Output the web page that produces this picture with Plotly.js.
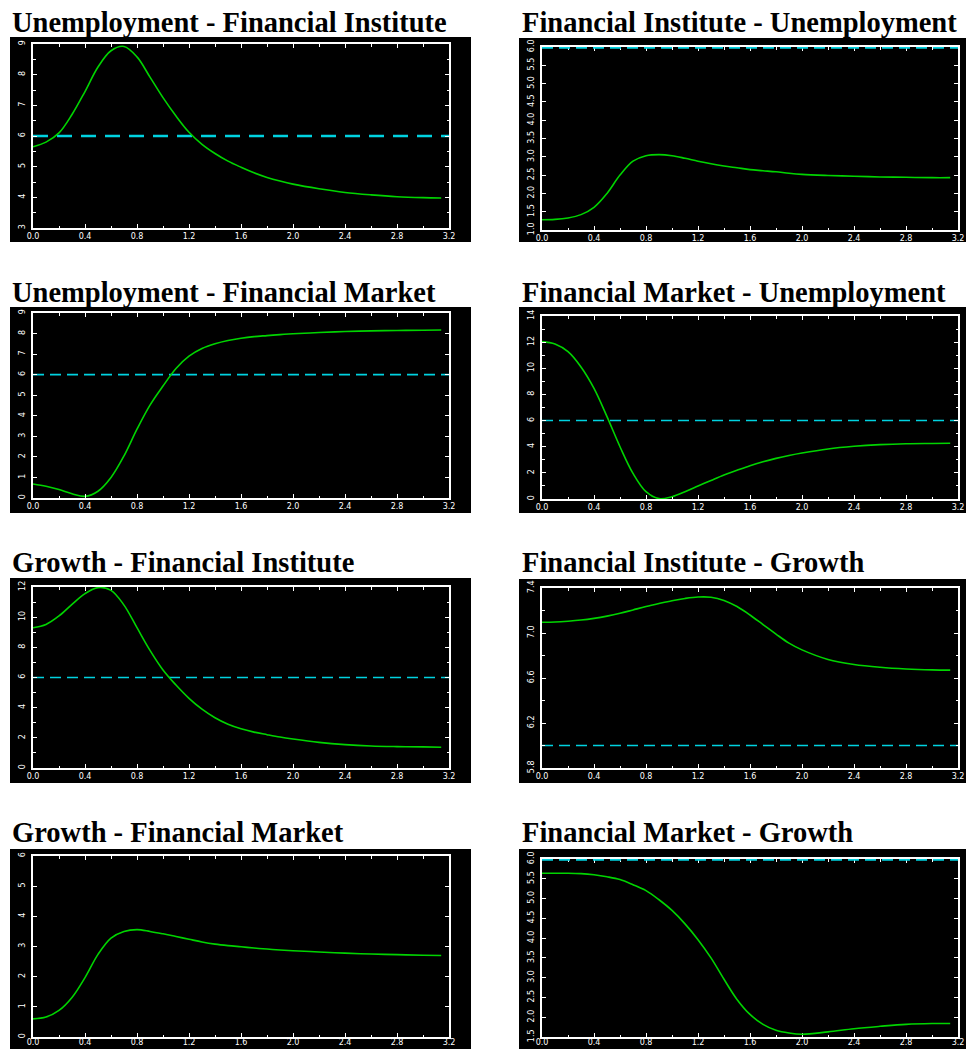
<!DOCTYPE html>
<html>
<head>
<meta charset="utf-8">
<script src="https://cdn.plot.ly/plotly-3.0.1.min.js"></script>
<style>
  html, body { margin: 0; padding: 0; background: #ffffff; }
  #chart { width: 968px; height: 1049px; }
</style>
</head>
<body>
<div id="chart"></div>
<script>
// Frequency grid (radians, 0 .. pi) shared by all eight response curves
const freq = [0, 0.1, 0.2, 0.3, 0.4, 0.5, 0.6, 0.7, 0.8, 0.9, 1.0, 1.1, 1.2, 1.3, 1.4,
              1.5, 1.6, 1.7, 1.8, 1.9, 2.0, 2.2, 2.4, 2.6, 2.8, 3.0, 3.14];

const unempFinInst = [5.65, 5.8, 6.1, 6.7, 7.45, 8.25, 8.78, 8.92, 8.58, 7.92, 7.25, 6.65, 6.12, 5.73, 5.43,
                      5.18, 4.98, 4.8, 4.65, 4.53, 4.43, 4.28, 4.16, 4.08, 4.02, 3.99, 3.98];
const finInstUnemp = [1.28, 1.29, 1.33, 1.42, 1.62, 2.0, 2.5, 2.88, 3.03, 3.06, 3.03, 2.96, 2.88, 2.81, 2.75,
                      2.7, 2.65, 2.62, 2.59, 2.55, 2.52, 2.49, 2.47, 2.45, 2.44, 2.43, 2.43];
const unempFinMkt  = [0.68, 0.57, 0.41, 0.21, 0.08, 0.33, 1.0, 2.05, 3.35, 4.52, 5.45, 6.3, 6.9, 7.27, 7.5,
                      7.66, 7.77, 7.85, 7.9, 7.95, 7.99, 8.05, 8.1, 8.13, 8.15, 8.16, 8.17];
const finMktUnemp  = [12.04, 11.86, 11.27, 10.1, 8.46, 6.3, 4.0, 1.96, 0.56, 0.03, 0.18, 0.56, 0.99, 1.42, 1.84,
                      2.2, 2.55, 2.85, 3.11, 3.33, 3.52, 3.83, 4.03, 4.16, 4.23, 4.25, 4.26];
const growthFinInst = [9.3, 9.52, 10.08, 10.85, 11.56, 11.96, 11.78, 10.8, 9.3, 7.8, 6.5, 5.5, 4.62, 3.9, 3.33,
                       2.9, 2.6, 2.38, 2.21, 2.05, 1.92, 1.7, 1.55, 1.46, 1.42, 1.4, 1.38];
const finInstGrowth = [7.096, 7.098, 7.105, 7.115, 7.13, 7.15, 7.175, 7.205, 7.235, 7.262, 7.287, 7.307, 7.32, 7.318, 7.29,
                       7.235, 7.16, 7.075, 6.99, 6.91, 6.85, 6.765, 6.72, 6.695, 6.68, 6.672, 6.67];
const growthFinMkt  = [0.6, 0.66, 0.88, 1.31, 1.97, 2.74, 3.28, 3.5, 3.56, 3.5, 3.42, 3.33, 3.24, 3.15, 3.08,
                       3.03, 2.99, 2.95, 2.915, 2.885, 2.86, 2.82, 2.78, 2.75, 2.73, 2.71, 2.7];
const finMktGrowth  = [5.64, 5.64, 5.64, 5.63, 5.6, 5.55, 5.48, 5.35, 5.2, 4.97, 4.7, 4.36, 3.96, 3.5, 2.96,
                       2.45, 2.07, 1.82, 1.67, 1.6, 1.57, 1.63, 1.71, 1.77, 1.82, 1.84, 1.84];

const titles = [
  'Unemployment - Financial Institute', 'Financial Institute - Unemployment',
  'Unemployment - Financial Market',    'Financial Market - Unemployment',
  'Growth - Financial Institute',       'Financial Institute - Growth',
  'Growth - Financial Market',          'Financial Market - Growth'
];
const series = [unempFinInst, finInstUnemp, unempFinMkt, finMktUnemp,
                growthFinInst, finInstGrowth, growthFinMkt, finMktGrowth];

// Reference level and frequency span of the dashed line
const refLevel = 6;
const refSpan = [0, 3.2];
const showRef = [true, true, true, true, true, true, false, true];

// Axis scales per panel
const yRanges  = [[3, 9], [1, 6], [0, 9], [0, 14], [0, 12], [5.8, 7.4], [0, 6], [1.5, 6]];
const yDticks  = [1, 0.5, 1, 2, 2, 0.4, 1, 0.5];
const yMinor   = [0.5, null, null, 1, 1, 0.2, null, null];
const yFormats = ['d', '.1f', 'd', 'd', 'd', '.1f', 'd', '.1f'];
const xRange = [0, 3.2];

// ---- layout geometry (pixels) ----
const W = 968, H = 1049;
// plot frame: [left, top, right, bottom]
const frames = [
  [33, 44, 449, 228], [542, 47, 958, 230],
  [33, 313, 449, 498], [542, 316, 958, 499],
  [33, 587, 449, 768], [542, 588, 958, 768],
  [33, 856, 449, 1037], [542, 859, 958, 1037]
];
// black panel backgrounds: [left, top, right, bottom]
const boxes = [
  [10, 37, 471, 242], [519, 38, 966, 242],
  [10, 307, 471, 513], [519, 307, 966, 513],
  [10, 578, 471, 783], [519, 579, 966, 783],
  [10, 849, 471, 1049], [519, 849, 966, 1049]
];
// title text: [left, vertical middle]
const titlePos = [
  [10, 22], [520, 22], [10, 292], [520, 292],
  [10, 562], [520, 562], [10, 832], [520, 832]
];

const GREEN = '#00d400';
const CYAN = '#00d2e0';
const tickFont = { family: 'DejaVu Sans, sans-serif', size: 8, color: '#ffffff' };

const traces = [];
const layout = {
  width: W, height: H,
  margin: { l: 0, r: 0, t: 0, b: 0, pad: 0 },
  paper_bgcolor: '#ffffff',
  plot_bgcolor: '#000000',
  showlegend: false,
  shapes: [],
  annotations: []
};

for (let i = 0; i < 8; i++) {
  const k = i === 0 ? '' : String(i + 1);
  const xa = 'x' + k, ya = 'y' + k;
  const [fl, ft, fr, fb] = frames[i];
  // panels whose reference level sits on the top edge draw it over the frame
  const refOnEdge = (i === 1 || i === 7);
  const bottomRow = i >= 6;

  if (showRef[i]) {
    let refLine;
    if (i === 0) refLine = { color: CYAN, width: 2.5, dash: '15px,9px' };
    else if (refOnEdge) refLine = { color: CYAN, width: 3.5, dash: '11px,6px' };
    else refLine = { color: CYAN, width: 1.6, dash: '11px,6px' };
    traces.push({
      x: refSpan, y: [refLevel, refLevel],
      xaxis: xa, yaxis: ya, mode: 'lines', hoverinfo: 'skip', line: refLine
    });
  }
  traces.push({
    x: freq, y: series[i],
    xaxis: xa, yaxis: ya, mode: 'lines', hoverinfo: 'skip',
    line: { color: GREEN, width: 1.6, shape: 'spline', smoothing: 1.0 }
  });

  layout['xaxis' + k] = {
    domain: [fl / W, fr / W], anchor: ya, range: xRange,
    tick0: 0, dtick: 0.4, tickformat: '.1f',
    ticks: 'inside', ticklen: 4, tickwidth: 1, tickcolor: '#ffffff',
    showline: true, linecolor: '#ffffff', linewidth: 1.8, mirror: 'allticks',
    showgrid: false, zeroline: false, tickfont: tickFont,
    ticklabelstandoff: bottomRow ? -3 : 0,
    layer: refOnEdge ? 'below traces' : 'above traces',
    minor: { dtick: 0.2, tick0: 0, ticks: 'inside', ticklen: 2.5, tickwidth: 1, tickcolor: '#ffffff', showgrid: false },
    fixedrange: true
  };
  const yax = {
    domain: [1 - fb / H, 1 - ft / H], anchor: xa, range: yRanges[i],
    tick0: yRanges[i][0], dtick: yDticks[i], tickformat: yFormats[i],
    ticks: 'inside', ticklen: 4, tickwidth: 1, tickcolor: '#ffffff',
    showline: true, linecolor: '#ffffff', linewidth: 1.8, mirror: 'allticks',
    showgrid: false, zeroline: false, tickfont: tickFont, tickangle: -90,
    ticklabelstandoff: 3,
    layer: refOnEdge ? 'below traces' : 'above traces',
    fixedrange: true
  };
  if (yMinor[i]) {
    yax.minor = { dtick: yMinor[i], tick0: yRanges[i][0], ticks: 'inside', ticklen: 2.5, tickwidth: 1, tickcolor: '#ffffff', showgrid: false };
  }
  layout['yaxis' + k] = yax;

  const [bl, bt, br, bb] = boxes[i];
  layout.shapes.push({
    type: 'rect', xref: 'paper', yref: 'paper', layer: 'below',
    x0: bl / W, x1: br / W, y0: 1 - bb / H, y1: 1 - bt / H,
    fillcolor: '#000000', line: { width: 0 }
  });

  layout.annotations.push({
    text: '<b>' + titles[i] + '</b>',
    xref: 'paper', yref: 'paper',
    x: titlePos[i][0] / W, y: 1 - titlePos[i][1] / H,
    xanchor: 'left', yanchor: 'middle', showarrow: false,
    font: { family: 'Liberation Serif, Times New Roman, serif', size: 28.5, color: '#000000' }
  });
}

Plotly.newPlot('chart', traces, layout, { staticPlot: true, displayModeBar: false });
</script>
</body>
</html>
